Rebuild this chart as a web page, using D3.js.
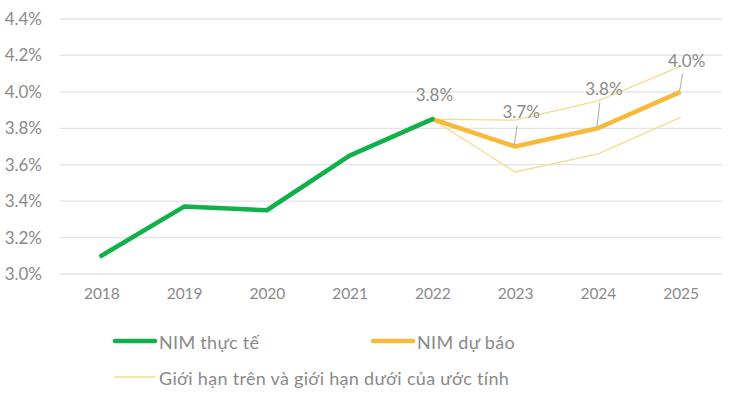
<!DOCTYPE html>
<html>
<head>
<meta charset="utf-8">
<script src="https://cdn.jsdelivr.net/npm/d3@7"></script>
<style>
  body { margin: 0; background: #fff; }
  #chart { width: 730px; height: 397px; }
  text { font-family: 'Lato', sans-serif; fill: #8a8a8a; }
</style>
</head>
<body>
<div id="chart"></div>
<script>
// Data
const years = ['2018', '2019', '2020', '2021', '2022', '2023', '2024', '2025'];
const actualYears = ['2018', '2019', '2020', '2021', '2022'];
const actualNim = [3.10, 3.37, 3.35, 3.65, 3.85];
const forecastYears = ['2022', '2023', '2024', '2025'];
const forecastNim = [3.85, 3.70, 3.80, 4.00];
const upperBound = [3.85, 3.845, 3.95, 4.14];
const lowerBound = [3.85, 3.56, 3.66, 3.86];
const yTicks = [3.0, 3.2, 3.4, 3.6, 3.8, 4.0, 4.2, 4.4];
const pointLabels = ['3.8%', '3.7%', '3.8%', '4.0%'];
const legendNames = ['NIM thực tế', 'NIM dự báo', 'Giới hạn trên và giới hạn dưới của ước tính'];

const W = 730, H = 397;
const margin = { top: 19, right: 8, bottom: 123, left: 60 };

const svg = d3.select('#chart').append('svg')
    .attr('width', W)
    .attr('height', H);

const x = d3.scalePoint()
    .domain(years)
    .range([margin.left, W - margin.right])
    .padding(0.5);

const y = d3.scaleLinear()
    .domain([3.0, 4.4])
    .range([H - margin.bottom, margin.top]);

// Gridlines
svg.append('g')
    .selectAll('line')
    .data(yTicks)
    .join('line')
    .attr('x1', margin.left)
    .attr('x2', W - margin.right)
    .attr('y1', d => y(d))
    .attr('y2', d => y(d))
    .attr('stroke', '#e3e3e3')
    .attr('stroke-width', 1.3);

// Y axis labels
const yAxis = svg.append('g')
    .attr('transform', `translate(${margin.left - 18},0)`)
    .call(d3.axisLeft(y).tickValues(yTicks).tickSize(0).tickFormat(d => d.toFixed(1) + '%'));
yAxis.select('.domain').remove();
yAxis.selectAll('text')
    .attr('x', 0)
    .style('font-size', '17px')
    .style('font-family', 'Lato, sans-serif')
    .attr('fill', '#8a8a8a');

// X axis labels
const xAxis = svg.append('g')
    .attr('transform', `translate(0,${y(3.0) + 20})`)
    .call(d3.axisBottom(x).tickSize(0));
xAxis.select('.domain').remove();
xAxis.selectAll('text')
    .attr('dy', '0.3em')
    .attr('y', 0)
    .style('font-size', '15.5px')
    .style('font-family', 'Lato, sans-serif')
    .attr('fill', '#8a8a8a');

const line = d3.line()
    .x(d => x(d[0]))
    .y(d => y(d[1]));

// Bounds
[upperBound, lowerBound].forEach(arr => {
    svg.append('path')
        .attr('d', line(forecastYears.map((yr, i) => [yr, arr[i]])))
        .attr('fill', 'none')
        .attr('stroke', '#f4dc8c')
        .attr('stroke-width', 1.3);
});

// Forecast
svg.append('path')
    .attr('d', line(forecastYears.map((yr, i) => [yr, forecastNim[i]])))
    .attr('fill', 'none')
    .attr('stroke', '#f8b93b')
    .attr('stroke-width', 4.5)
    .attr('stroke-linejoin', 'round');

// Actual
svg.append('path')
    .attr('d', line(actualYears.map((yr, i) => [yr, actualNim[i]])))
    .attr('fill', 'none')
    .attr('stroke', '#10b04a')
    .attr('stroke-width', 4.5)
    .attr('stroke-linecap', 'round')
    .attr('stroke-linejoin', 'round');

// Data labels with leader lines
const labelOffsets = [
    { dx: 2, dy: -24, leader: false },
    { dx: 6, dy: -34, leader: true },
    { dx: 6, dy: -39, leader: true },
    { dx: 6, dy: -31, leader: true }
];
forecastYears.forEach((yr, i) => {
    const px = x(yr), py = y(forecastNim[i]);
    const o = labelOffsets[i];
    if (o.leader) {
        svg.append('line')
            .attr('x1', px - 1)
            .attr('y1', py - 1)
            .attr('x2', px + 2)
            .attr('y2', py + o.dy + 13)
            .attr('stroke', '#a8a8a8')
            .attr('stroke-width', 1);
    }
    svg.append('text')
        .attr('x', px + o.dx)
        .attr('y', py + o.dy)
        .attr('text-anchor', 'middle')
        .attr('dy', '0.35em')
        .style('font-size', '17px')
        .text(pointLabels[i]);
});

// Legend
const legend = svg.append('g');
const legendItems = [
    { x: 115, y: 341, color: '#10b04a', width: 4.5, name: legendNames[0] },
    { x: 373, y: 341, color: '#f8b93b', width: 4.5, name: legendNames[1] },
    { x: 115, y: 377, color: '#f4dc8c', width: 1.3, name: legendNames[2] }
];
legendItems.forEach(item => {
    legend.append('line')
        .attr('x1', item.x)
        .attr('x2', item.x + 40)
        .attr('y1', item.y)
        .attr('y2', item.y)
        .attr('stroke', item.color)
        .attr('stroke-width', item.width)
        .attr('stroke-linecap', 'round');
    legend.append('text')
        .attr('x', item.x + 44)
        .attr('y', item.y + 2)
        .attr('dy', '0.35em')
        .style('font-size', '18px')
        .style('letter-spacing', '0.3px')
        .text(item.name);
});
</script>
</body>
</html>
